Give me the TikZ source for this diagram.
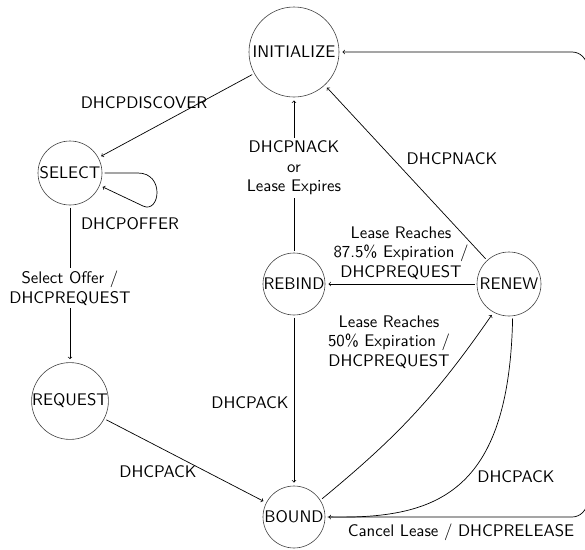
\documentclass[tikz,border=0pt]{standalone}
\usepackage{fontspec}
\setsansfont{lmsans10-regular.otf}
\usetikzlibrary{arrows}
\begin{document}
\begin{tikzpicture}[x=1pt,y=-1pt,
    font=\sffamily\fontsize{16.8}{19.5}\selectfont,
    state/.style={circle,draw=black!75,line width=0.6pt,inner sep=0pt,outer sep=2.5pt},
    trans/.style={->,line width=0.7pt,shorten >=1pt},
    lbl/.style={inner sep=0pt,anchor=base},
    mlbl/.style={inner sep=0pt,align=center},
    cutlbl/.style={inner sep=3pt,align=center,fill=white}]
  \useasboundingbox (0,0) rectangle (585,549);

  % states
  \node[state,minimum size=90pt] (INIT)    at (294,52)  {INITIALIZE};
  \node[state,minimum size=64pt] (SELECT)  at (70,173)  {SELECT};
  \node[state,minimum size=76pt] (REQUEST) at (70,401)  {REQUEST};
  \node[state,minimum size=62pt] (REBIND)  at (294,284) {REBIND};
  \node[state,minimum size=64pt] (RENEW)   at (509,284) {RENEW};
  \node[state,minimum size=62pt] (BOUND)   at (294,517) {BOUND};
  \coordinate (rim) at (587,0);

  % transitions
  \draw[trans] (INIT) -- (SELECT);
  \draw[trans] (SELECT.east) -- (138,173)
     .. controls (165,173) and (160,214) .. (143,206) -- (SELECT.-23);
  \draw[trans] (SELECT) -- (REQUEST);
  \draw[trans] (REQUEST) -- (BOUND);
  \draw[trans] (REBIND) -- (INIT);
  \draw[trans] (REBIND) -- (BOUND);
  \draw[trans] (RENEW) -- (REBIND);
  \draw[trans] (RENEW) -- (INIT);
  \draw[trans] (BOUND.33) .. controls (397,437) and (435,397) .. (RENEW.-119);
  \draw[trans] (RENEW.-84) .. controls (509,495) and (435,519) .. (BOUND.east);
  \draw[trans,rounded corners=15pt] (BOUND.east) -- (BOUND.east -| rim)
     -- (INIT.east -| rim) -- (INIT.east);

  % transition labels
  \node[lbl] (l-discover) at (144,108) {DHCPDISCOVER};
  \node[lbl] (l-offer)    at (130,229) {DHCPOFFER};
  \node[cutlbl] (l-select) at (70,288) {Select Offer /\\DHCPREQUEST};
  \node[lbl] (l-ack1)     at (158,477) {DHCPACK};
  \node[cutlbl] (l-nack1) at (294,168) {DHCPNACK\\or\\Lease Expires};
  \node[lbl] (l-ack2)     at (250,408) {DHCPACK};
  \node[mlbl] (l-rebind)  at (401,253) {Lease Reaches\\87.5\% Expiration /\\DHCPREQUEST};
  \node[lbl] (l-nack2)    at (452,164) {DHCPNACK};
  \node[mlbl] (l-renew)   at (389,342) {Lease Reaches\\50\% Expiration /\\DHCPREQUEST};
  \node[lbl] (l-ack3)     at (516,482) {DHCPACK};
  \node[lbl] (l-release)  at (461,536) {Cancel Lease / DHCPRELEASE};
\end{tikzpicture}
\end{document}
